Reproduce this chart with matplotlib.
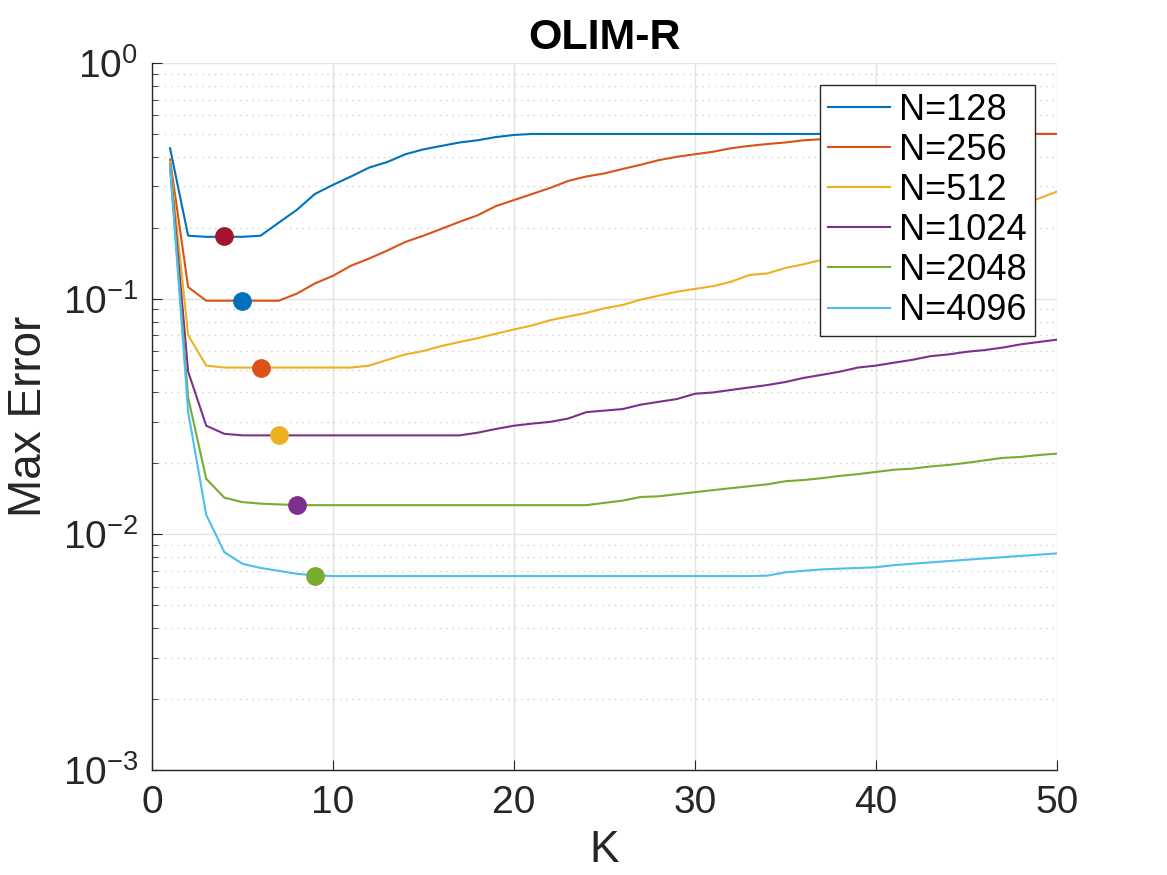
import numpy as np
import matplotlib.pyplot as plt
from matplotlib.ticker import LogLocator, NullFormatter, FixedLocator

plt.rcParams['font.family'] = ['Liberation Sans', 'DejaVu Sans']
plt.rcParams['mathtext.fontset'] = 'custom'
plt.rcParams['mathtext.rm'] = 'Liberation Sans'
plt.rcParams['mathtext.default'] = 'regular'

K = np.arange(1, 51)

err_128 = [0.435, 0.185, 0.183, 0.183, 0.183, 0.185, 0.21, 0.238, 0.278, 0.304,
           0.33, 0.36, 0.38, 0.41, 0.43, 0.445, 0.46, 0.47, 0.485, 0.495] + [0.5] * 30
err_256 = [0.39, 0.112, 0.098, 0.098, 0.098, 0.098, 0.098, 0.105, 0.116, 0.125,
           0.138, 0.148, 0.16, 0.174, 0.185, 0.198, 0.212, 0.226, 0.247, 0.262,
           0.278, 0.295, 0.316, 0.33, 0.34, 0.355, 0.37, 0.387, 0.40, 0.41,
           0.42, 0.435, 0.445, 0.453, 0.46, 0.47, 0.475, 0.48, 0.485, 0.49,
           0.495, 0.5, 0.5, 0.5, 0.5, 0.5, 0.5, 0.5, 0.5, 0.5]
err_512 = [0.38, 0.070, 0.052, 0.051, 0.051, 0.051, 0.051, 0.051, 0.051, 0.051,
           0.051, 0.052, 0.055, 0.058, 0.060, 0.063, 0.0655, 0.068, 0.071, 0.074,
           0.077, 0.081, 0.084, 0.087, 0.091, 0.094, 0.099, 0.103, 0.107, 0.11,
           0.113, 0.118, 0.126, 0.128, 0.135, 0.14, 0.146, 0.152, 0.16, 0.168,
           0.177, 0.186, 0.196, 0.206, 0.217, 0.228, 0.24, 0.252, 0.266, 0.285]
err_1024 = [0.37, 0.049, 0.0289, 0.0267] + [0.0263] * 13 + [
            0.027, 0.028, 0.0289, 0.0295, 0.030, 0.031, 0.033, 0.0335, 0.034,
            0.0355, 0.0365, 0.0375, 0.0395, 0.040, 0.041, 0.042, 0.043, 0.0443,
            0.0461, 0.0475, 0.049, 0.051, 0.052, 0.0535, 0.055, 0.057, 0.058,
            0.0595, 0.0605, 0.062, 0.064, 0.0655, 0.067]
err_2048 = [0.36, 0.038, 0.0172, 0.0143, 0.0137, 0.0135, 0.0134] + [0.0133] * 17 + [
            0.0136, 0.0139, 0.0144, 0.0145, 0.0148, 0.0151, 0.0154, 0.0157, 0.016,
            0.0163, 0.0168, 0.017, 0.0173, 0.0177, 0.018, 0.0184, 0.0188, 0.019,
            0.0194, 0.0197, 0.0201, 0.0206, 0.0211, 0.0213, 0.0217, 0.022]
err_4096 = [0.37, 0.033, 0.0121, 0.0084, 0.0075, 0.0072, 0.0070, 0.0068, 0.0067] + \
           [0.00665] * 24 + [
            0.00668, 0.0069, 0.0070, 0.0071, 0.00715, 0.0072, 0.00725, 0.0074,
            0.0075, 0.0076, 0.0077, 0.0078, 0.0079, 0.008, 0.0081, 0.0082, 0.0083]

series = [err_128, err_256, err_512, err_1024, err_2048, err_4096]
labels = ['N=128', 'N=256', 'N=512', 'N=1024', 'N=2048', 'N=4096']
colors = ['#0072BD', '#D95319', '#EDB120', '#7E2F8E', '#77AC30', '#4DBEEE']

# optimal K markers (one per N)
opt_K = [4, 5, 6, 7, 8, 9]
opt_err = [0.184, 0.098, 0.051, 0.0263, 0.0133, 0.00668]
opt_colors = ['#A2142F', '#0072BD', '#D95319', '#EDB120', '#7E2F8E', '#77AC30']

fig = plt.figure(figsize=(11.67, 8.75), dpi=100)
ax = fig.add_axes([0.1302, 0.12, 0.7755, 0.808])

for y, lab, c in zip(series, labels, colors):
    ax.plot(K, y, color=c, lw=1.5, label=lab)
for k, e, c in zip(opt_K, opt_err, opt_colors):
    ax.plot(k, e, 'o', color=c, markersize=12.5, zorder=5)

ax.set_yscale('log')
ax.set_xlim(0, 50)
ax.set_ylim(1e-3, 1e0)
ax.xaxis.set_major_locator(FixedLocator([0, 10, 20, 30, 40, 50]))
ax.yaxis.set_major_locator(LogLocator(base=10, numticks=10))
ax.yaxis.set_minor_locator(LogLocator(base=10, subs=np.arange(2, 10), numticks=10))
ax.yaxis.set_minor_formatter(NullFormatter())

ax.grid(True, which='major', color='#e3e3e3', lw=1.0, ls='-')
ax.grid(True, which='minor', axis='y', color='#c8c8c8', lw=0.9, ls=(0, (1, 4)))
ax.set_axisbelow(True)

for s in ['top', 'right']:
    ax.spines[s].set_visible(False)
for s in ['left', 'bottom']:
    ax.spines[s].set_color('#262626')
    ax.spines[s].set_linewidth(1.0)

ax.tick_params(which='both', direction='in', colors='#262626', labelsize=28)
ax.tick_params(which='major', length=7)
ax.tick_params(which='minor', length=4)
ax.tick_params(axis='x', pad=11)
ax.tick_params(axis='y', pad=10)

ax.set_xlabel('K', fontsize=32, color='#262626', labelpad=6)
ax.set_ylabel('Max Error', fontsize=33, color='#262626', labelpad=8)
ax.set_title('OLIM-R', fontsize=31, fontweight='bold', pad=10)

leg = ax.legend(loc='upper right', bbox_to_anchor=(0.9757, 0.969), borderaxespad=0,
                fontsize=26, fancybox=False, framealpha=1, edgecolor='#262626',
                handlelength=1.72, handletextpad=0.25, labelspacing=0.14,
                borderpad=0.22)
leg.get_frame().set_linewidth(1.0)

fig.savefig('out.png', dpi=100)
